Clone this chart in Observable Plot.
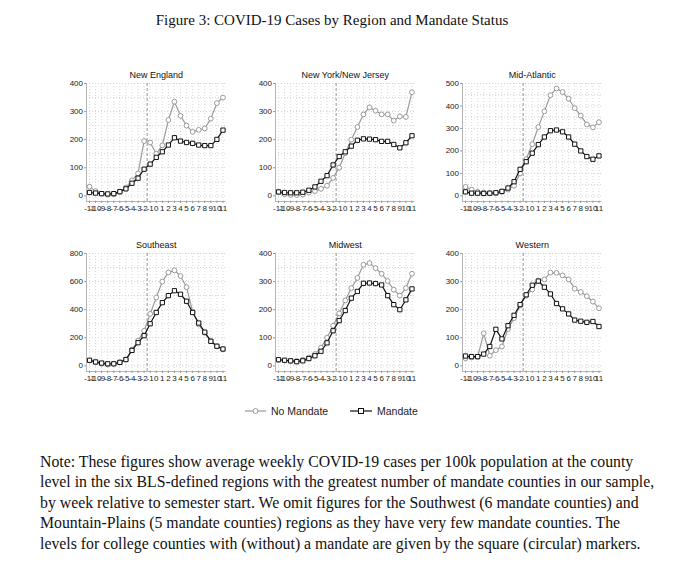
<!DOCTYPE html>
<html><head><meta charset="utf-8">
<script src="https://cdn.jsdelivr.net/npm/d3@7"></script>
<script src="https://cdn.jsdelivr.net/npm/@observablehq/plot@0.6"></script>
<style>
body{margin:0;background:#fff;width:680px;height:583px;position:relative;overflow:hidden;font-family:"Liberation Sans",Arial,sans-serif}
#title{position:absolute;top:12px;left:0;width:664px;text-align:center;font-family:"Liberation Serif","Times New Roman",serif;font-size:15px;color:#111}
.panel{position:absolute}
#legend{position:absolute;top:403px;left:0}
#note{position:absolute;left:40px;top:452px;font-family:"Liberation Serif","Times New Roman",serif;font-size:15.8px;line-height:20.4px;color:#111;white-space:nowrap}
</style>
</head><body>
<div id="title">Figure 3: COVID-19 Cases by Region and Mandate Status</div>
<div id="panels"></div>
<svg id="legend" width="680" height="16">
  <line x1="245" x2="266" y1="8" y2="8" stroke="#999" stroke-width="1.2"/>
  <circle cx="255.5" cy="8" r="2.5" fill="white" stroke="#999"/>
  <text x="271" y="11.8" font-size="10.5" fill="#222">No Mandate</text>
  <line x1="350" x2="372" y1="8" y2="8" stroke="#111" stroke-width="1.2"/>
  <rect x="358.5" y="5.5" width="5" height="5" fill="white" stroke="#111"/>
  <text x="377" y="11.8" font-size="10.5" fill="#222">Mandate</text>
</svg>
<div id="note">Note: These figures show average weekly COVID-19 cases per 100k population at the county<br>level in the six BLS-defined regions with the greatest number of mandate counties in our sample,<br>by week relative to semester start. We omit figures for the Southwest (6 mandate counties) and<br>Mountain-Plains (5 mandate counties) regions as they have very few mandate counties. The<br>levels for college counties with (without) a mandate are given by the square (circular) markers.</div>
<script>
const weeks = [-11,-10,-9,-8,-7,-6,-5,-4,-3,-2,-1,0,1,2,3,4,5,6,7,8,9,10,11];

const regions = ["New England","New York/New Jersey","Mid-Atlantic","Southeast","Midwest","Western"];

const neNoMandate   = [33,17,8,4,6,14,30,55,80,195,190,150,180,270,335,285,250,228,235,240,275,330,350];
const neMandate     = [12,10,8,7,8,15,25,45,63,95,113,137,157,181,207,195,190,187,181,179,179,201,234];

const nynjNoMandate = [14,6,3,3,5,12,17,25,36,64,100,152,200,245,290,315,303,290,290,268,283,281,369];
const nynjMandate   = [14,12,11,11,13,20,32,52,72,110,140,157,177,198,203,202,200,194,194,183,171,189,214];

const maNoMandate   = [40,28,18,15,12,12,18,28,45,100,163,230,306,376,448,478,462,432,390,357,318,305,328];
const maMandate     = [18,12,12,11,12,14,20,35,63,118,152,190,228,262,290,293,285,262,230,200,175,163,178];

const seNoMandate   = [38,25,15,10,15,25,45,115,180,250,370,487,600,665,680,640,560,385,295,235,178,140,118];
const seMandate     = [40,28,20,15,15,25,45,110,165,215,300,380,450,500,535,510,460,380,305,240,175,140,120];

const mwNoMandate   = [21,19,17,18,22,30,42,65,100,143,187,233,277,313,360,366,348,328,302,271,250,277,328];
const mwMandate     = [22,20,18,15,18,26,36,52,82,125,161,197,241,265,294,295,293,288,250,218,200,235,274];

const wNoMandate    = [27,30,32,116,36,56,69,131,170,215,250,272,302,308,332,331,322,308,275,263,248,229,205];
const wMandate      = [35,33,33,42,69,130,96,143,180,218,253,287,302,280,256,222,203,185,163,159,155,158,140];

const yTicks = [
  [0,100,200,300,400],
  [0,100,200,300,400],
  [0,100,200,300,400,500],
  [0,200,400,600,800],
  [0,100,200,300,400],
  [0,100,200,300,400]
];
const noMandateSeries = [neNoMandate, nynjNoMandate, maNoMandate, seNoMandate, mwNoMandate, wNoMandate];
const mandateSeries   = [neMandate, nynjMandate, maMandate, seMandate, mwMandate, wMandate];
const semesterStart = -1.5;

const plotLefts = [86.3, 274.7, 462];
const plotTops = [83.3, 252.7];
const ML = 36, MR = 8.5, MT = 20, MB = 20, PW = 139.5, PH = 118;

const container = document.getElementById("panels");
regions.forEach((name, k) => {
  const ticks = yTicks[k];
  const T = ticks[ticks.length - 1];
  const step = ticks[1] - ticks[0];
  const ymin = -0.05 * T;
  const minor = ticks.slice(0, -1).map(t => t + step / 2);
  const data = weeks.map((w, i) => ({w, no: noMandateSeries[k][i], m: mandateSeries[k][i]}));
  const chart = Plot.plot({
    width: ML + PW + MR, height: MT + PH + MB,
    marginLeft: ML, marginRight: MR, marginTop: MT, marginBottom: MB,
    x: {domain: [-11.5, 11.5], axis: null},
    y: {domain: [ymin, T], axis: null},
    style: {background: "transparent", fontFamily: "Liberation Sans, Arial, sans-serif", color: "#222", overflow: "visible"},
    marks: [
      Plot.ruleY(ticks.concat(minor), {stroke: "#d2d2d2", strokeDasharray: "1,2"}),
      Plot.ruleX(weeks, {stroke: "#d8d8d8", strokeDasharray: "1,2"}),
      Plot.ruleX([-11.5], {stroke: "#b5b5b5"}),
      Plot.ruleY([ymin], {stroke: "#b5b5b5"}),
      Plot.axisY({ticks, label: null, tickSize: 2, tickPadding: 1.5, fontSize: 8, stroke: "#999", tickFormat: d => String(d)}),
      Plot.axisX({ticks: weeks, label: null, tickSize: 2, tickPadding: 1.5, fontSize: 8, stroke: "#999", tickFormat: d => String(d)}),
      Plot.ruleX([semesterStart], {stroke: "#888", strokeDasharray: "3,2", strokeWidth: 0.9}),
      Plot.line(data, {x: "w", y: "no", stroke: "#9a9a9a", strokeWidth: 1.2}),
      Plot.dot(data, {x: "w", y: "no", symbol: "circle", r: 2.4, stroke: "#9a9a9a", fill: "white", strokeWidth: 1}),
      Plot.line(data, {x: "w", y: "m", stroke: "#111", strokeWidth: 1.2}),
      Plot.dot(data, {x: "w", y: "m", symbol: "square", r: 2.4, stroke: "#111", fill: "white", strokeWidth: 1}),
      Plot.text([name], {frameAnchor: "top", dy: -12, fontSize: 9, fill: "#111"})
    ]
  });
  const div = document.createElement("div");
  div.className = "panel";
  div.style.left = (plotLefts[k % 3] - ML) + "px";
  div.style.top = (plotTops[Math.floor(k / 3)] - MT) + "px";
  div.appendChild(chart);
  container.appendChild(div);
});
</script>
</body></html>
